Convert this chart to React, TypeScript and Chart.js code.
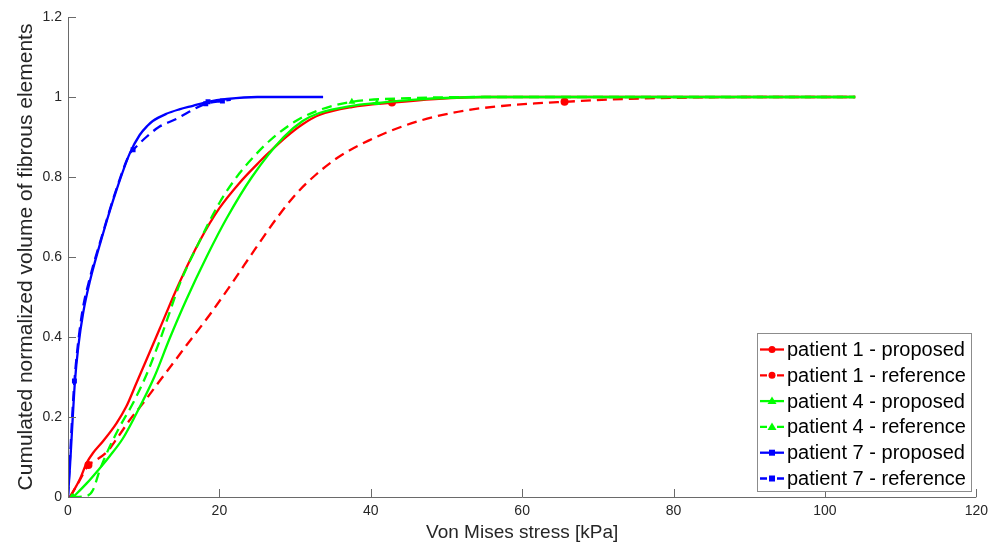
import React, { useEffect, useRef } from "react";
import { Chart, registerables } from "chart.js";
Chart.register(...registerables);

// ---- data ----
const seriesNames = [
  "patient 1 - proposed",
  "patient 1 - reference",
  "patient 4 - proposed",
  "patient 4 - reference",
  "patient 7 - proposed",
  "patient 7 - reference",
];

const p1PropX = [0.26, 1.58, 2.46, 3.3, 4.65, 6.4, 7.7, 9.0, 10.35, 12.1, 14.7, 17.4, 20, 22.6, 25.3, 26.6, 28.8, 31, 33.2, 37.5, 42.8, 48.5, 55, 104];
const p1PropY = [0, 0.045, 0.085, 0.11, 0.14, 0.184, 0.226, 0.283, 0.3425, 0.42, 0.535, 0.64, 0.722, 0.784, 0.838, 0.862, 0.9, 0.932, 0.955, 0.975, 0.986, 0.995, 1, 1];
const p1PropMarks = [20];

const p1RefX = [0.26, 1.5, 2.7, 3.5, 5.1, 6.6, 8.16, 9.9, 12.1, 14.3, 15.6, 18.7, 21.75, 24.8, 27.5, 30.1, 32.7, 35.6, 39.7, 44.1, 48.5, 52.9, 57.3, 61.7, 65.6, 72, 80, 90, 104];
const p1RefY = [0, 0.04, 0.08, 0.09, 0.112, 0.15, 0.1925, 0.234, 0.29, 0.345, 0.378, 0.455, 0.537, 0.622, 0.695, 0.757, 0.805, 0.848, 0.891, 0.926, 0.951, 0.9675, 0.9775, 0.984, 0.988, 0.994, 0.998, 1, 1];
const p1RefMarks = [2, 24];

const p4PropX = [0.7, 2.46, 4.2, 5.5, 7.2, 8.8, 11.4, 13.4, 15.6, 18.3, 21, 24.3, 28.5, 31, 33.2, 37.5, 40.8, 45.4, 55, 104];
const p4PropY = [0, 0.034, 0.072, 0.102, 0.145, 0.2, 0.3, 0.395, 0.492, 0.6, 0.698, 0.8, 0.9, 0.94, 0.96, 0.978, 0.985, 0.993, 1, 1];
const p4PropMarks = [0, 16];

const p4RefX = [0.5, 2.5, 3.3, 4.2, 5.1, 6.84, 8.6, 10.35, 12.1, 13.4, 14.7, 17.4, 20, 22.6, 24.8, 26.6, 30.1, 33.6, 37.5, 45, 55, 104];
const p4RefY = [0, 0.003, 0.0175, 0.0675, 0.109, 0.176, 0.235, 0.305, 0.39, 0.46, 0.53, 0.64, 0.735, 0.808, 0.856, 0.89, 0.94, 0.97, 0.988, 0.997, 1, 1];
const p4RefMarks = [0, 18];

const p7PropX = [0, 0.26, 0.6, 0.92, 1.36, 2, 2.9, 4.65, 6.4, 8.16, 9.47, 10.5, 11.2, 13, 14.7, 16.5, 18.5, 21, 25, 33.7];
const p7PropY = [0, 0.076, 0.19, 0.29, 0.376, 0.46, 0.54, 0.66, 0.767, 0.859, 0.905, 0.928, 0.94, 0.958, 0.969, 0.978, 0.988, 0.995, 1, 1];
const p7PropMarks = [16];

const p7RefX = [0, 0.22, 0.55, 0.85, 1.3, 1.95, 2.85, 4.6, 6.4, 8.2, 8.6, 10.35, 12.1, 14.3, 16, 18.2, 20.4, 21.5];
const p7RefY = [0, 0.08, 0.2, 0.29, 0.38, 0.47, 0.545, 0.66, 0.77, 0.86, 0.868, 0.9, 0.926, 0.945, 0.963, 0.983, 0.99, 0.993];
const p7RefMarks = [3, 10, 15, 16];

const xTickValues = [0, 20, 40, 60, 80, 100, 120];
const yTickValues = [0, 0.2, 0.4, 0.6, 0.8, 1, 1.2];

// ---- styles ----
const RED = "#ff0000";
const GREEN = "#00ff00";
const BLUE = "#0000ff";
const AXIS = "#6a6a6a";
const TEXT = "#262626";
const FONT = "'Liberation Sans', Arial, sans-serif";

type S = { name: string; xs: number[]; ys: number[]; marks: number[]; color: string; dashed: boolean; shape: string };
const series: S[] = [
  { name: seriesNames[0], xs: p1PropX, ys: p1PropY, marks: p1PropMarks, color: RED, dashed: false, shape: "circle" },
  { name: seriesNames[1], xs: p1RefX, ys: p1RefY, marks: p1RefMarks, color: RED, dashed: true, shape: "circle" },
  { name: seriesNames[2], xs: p4PropX, ys: p4PropY, marks: p4PropMarks, color: GREEN, dashed: false, shape: "triangle" },
  { name: seriesNames[3], xs: p4RefX, ys: p4RefY, marks: p4RefMarks, color: GREEN, dashed: true, shape: "triangle" },
  { name: seriesNames[4], xs: p7PropX, ys: p7PropY, marks: p7PropMarks, color: BLUE, dashed: false, shape: "rect" },
  { name: seriesNames[5], xs: p7RefX, ys: p7RefY, marks: p7RefMarks, color: BLUE, dashed: true, shape: "rect" },
];

function drawMarker(ctx: CanvasRenderingContext2D, shape: string, x: number, y: number, color: string) {
  ctx.fillStyle = color;
  ctx.beginPath();
  if (shape === "circle") {
    ctx.arc(x, y, 3.5, 0, Math.PI * 2);
  } else if (shape === "triangle") {
    ctx.moveTo(x, y - 4.5);
    ctx.lineTo(x + 4.5, y + 3);
    ctx.lineTo(x - 4.5, y + 3);
    ctx.closePath();
  } else {
    ctx.rect(x - 3, y - 3, 6, 6);
  }
  ctx.fill();
}

const axesPlugin = {
  id: "matlabAxes",
  afterDraw(chart: any) {
    const ctx: CanvasRenderingContext2D = chart.ctx;
    const xs = chart.scales.x;
    const ys = chart.scales.y;
    const { left, right, top, bottom } = chart.chartArea;
    ctx.save();
    ctx.strokeStyle = AXIS;
    ctx.lineWidth = 1;
    ctx.beginPath();
    ctx.moveTo(left + 0.5, top);
    ctx.lineTo(left + 0.5, bottom + 0.5);
    ctx.lineTo(right, bottom + 0.5);
    for (const v of xTickValues) {
      const px = Math.round(xs.getPixelForValue(v)) + 0.5;
      ctx.moveTo(px, bottom);
      ctx.lineTo(px, bottom - 8);
    }
    for (const v of yTickValues) {
      const py = Math.round(ys.getPixelForValue(v)) + 0.5;
      ctx.moveTo(left, py);
      ctx.lineTo(left + 8, py);
    }
    ctx.stroke();

    // legend box
    const bx = 757, by = 333, bw = 214, bh = 158;
    ctx.fillStyle = "#ffffff";
    ctx.fillRect(bx, by, bw, bh);
    ctx.strokeStyle = "#8c8c8c";
    ctx.strokeRect(bx + 0.5, by + 0.5, bw, bh);
    ctx.font = `20px ${FONT}`;
    ctx.textBaseline = "middle";
    ctx.textAlign = "left";
    series.forEach((s, i) => {
      const cy = 349.5 + i * 25.8;
      ctx.strokeStyle = s.color;
      ctx.lineWidth = 2.3;
      ctx.beginPath();
      if (s.dashed) {
        ctx.moveTo(760, cy);
        ctx.lineTo(767, cy);
        ctx.moveTo(777, cy);
        ctx.lineTo(784, cy);
      } else {
        ctx.moveTo(760, cy);
        ctx.lineTo(784, cy);
      }
      ctx.stroke();
      drawMarker(ctx, s.shape, 772, cy, s.color);
      ctx.fillStyle = "#000000";
      ctx.fillText(s.name, 787, cy + 1);
    });
    ctx.restore();
  },
};

export default function App() {
  const ref = useRef<HTMLCanvasElement | null>(null);
  useEffect(() => {
    document.body.style.margin = "0";
    const canvas = ref.current!;
    const datasets = series.map((s, i) => ({
      label: s.name,
      data: s.xs.map((x, j) => ({ x, y: s.ys[j] })),
      borderColor: s.color,
      backgroundColor: s.color,
      borderWidth: 2.3,
      borderDash: s.dashed ? [10, 6] : [],
      fill: false,
      cubicInterpolationMode: "monotone" as const,
      pointStyle: s.shape,
      pointRadius: (c: any) => (s.marks.includes(c.dataIndex) ? (s.shape === "rect" ? 3.5 : 4) : 0),
      pointBorderWidth: 0,
      pointBackgroundColor: s.color,
      order: series.length - i,
    }));
    const chart = new Chart(canvas, {
      type: "line",
      data: { datasets },
      options: {
        animation: false,
        responsive: false,
        devicePixelRatio: 1,
        layout: { padding: { left: 0, right: 14, top: 17, bottom: 0 } },
        plugins: { legend: { display: false }, tooltip: { enabled: false } },
        scales: {
          x: {
            type: "linear",
            min: 0,
            max: 120,
            grid: { display: false, drawTicks: false },
            border: { display: false },
            afterFit: (sc: any) => { sc.height = 47; },
            afterBuildTicks: (sc: any) => { sc.ticks = xTickValues.map((v) => ({ value: v })); },
            ticks: { padding: 6, color: TEXT, font: { family: FONT, size: 14 }, maxRotation: 0 },
            title: { display: true, text: "Von Mises stress [kPa]", color: TEXT, font: { family: FONT, size: 19, lineHeight: 1 }, padding: { top: 0, bottom: 2 } },
          },
          y: {
            type: "linear",
            min: 0,
            max: 1.2,
            grid: { display: false, drawTicks: false },
            border: { display: false },
            afterFit: (sc: any) => { sc.width = 68; },
            afterBuildTicks: (sc: any) => { sc.ticks = yTickValues.map((v) => ({ value: v })); },
            ticks: {
              padding: 6,
              color: TEXT,
              font: { family: FONT, size: 14 },
              callback: (v: any) => String(+Number(v).toFixed(2)),
            },
            title: { display: true, text: "Cumulated normalized volume of fibrous elements", color: TEXT, font: { family: FONT, size: 21, lineHeight: 1 }, padding: { top: 16, bottom: 0 } },
          },
        },
      },
      plugins: [axesPlugin],
    });
    return () => chart.destroy();
  }, []);
  return (
    <div style={{ position: "fixed", left: 0, top: 0, width: 994, height: 544, background: "#fff" }}>
      <canvas ref={ref} width={994} height={544} style={{ width: 994, height: 544, display: "block" }} />
    </div>
  );
}
